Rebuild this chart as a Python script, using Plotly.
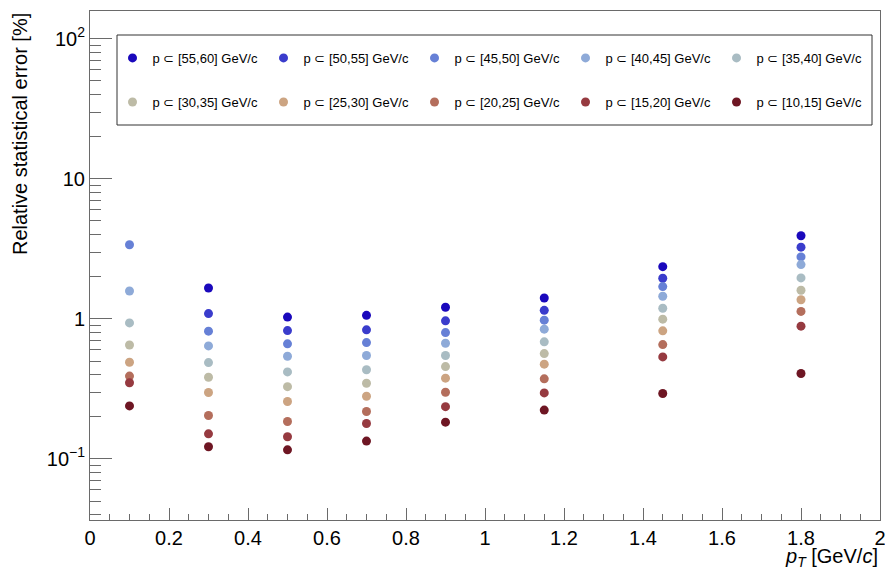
import plotly.graph_objects as go
import math

pt = [0.1, 0.3, 0.5, 0.7, 0.9, 1.15, 1.45, 1.8]

labels = ["p ⊂ [55,60] GeV/c", "p ⊂ [50,55] GeV/c", "p ⊂ [45,50] GeV/c",
          "p ⊂ [40,45] GeV/c", "p ⊂ [35,40] GeV/c", "p ⊂ [30,35] GeV/c",
          "p ⊂ [25,30] GeV/c", "p ⊂ [20,25] GeV/c", "p ⊂ [15,20] GeV/c",
          "p ⊂ [10,15] GeV/c"]

err_55_60 = [None, 1.66, 1.03, 1.06, 1.21, 1.41, 2.36, 3.92]
err_50_55 = [None, 1.09, 0.825, 0.835, 0.968, 1.15, 1.95, 3.25]
err_45_50 = [3.38, 0.817, 0.663, 0.677, 0.798, 0.979, 1.70, 2.77]
err_40_45 = [1.58, 0.641, 0.541, 0.547, 0.670, 0.844, 1.45, 2.44]
err_35_40 = [0.935, 0.487, 0.418, 0.433, 0.547, 0.685, 1.19, 1.96]
err_30_35 = [0.65, 0.383, 0.328, 0.347, 0.456, 0.565, 0.995, 1.60]
err_25_30 = [0.49, 0.298, 0.257, 0.280, 0.377, 0.475, 0.821, 1.37]
err_20_25 = [0.39, 0.204, 0.185, 0.218, 0.299, 0.373, 0.655, 1.13]
err_15_20 = [0.35, 0.151, 0.144, 0.179, 0.236, 0.296, 0.535, 0.887]
err_10_15 = [0.239, 0.122, 0.116, 0.134, 0.183, 0.223, 0.293, 0.407]

series = [err_55_60, err_50_55, err_45_50, err_40_45, err_35_40,
          err_30_35, err_25_30, err_20_25, err_15_20, err_10_15]

colors = ["#1a08bc", "#3a3ccc", "#6680d6", "#8eaad8", "#a9bcc3",
          "#bdbba6", "#cca482", "#b46e5c", "#963a40", "#6e1623"]

x_tickvals = [0, 0.2, 0.4, 0.6, 0.8, 1, 1.2, 1.4, 1.6, 1.8, 2]
x_ticktext = ["0", "0.2", "0.4", "0.6", "0.8", "1", "1.2", "1.4", "1.6", "1.8", "2"]
y_tickvals = [0.1, 1, 10, 100]
y_ticktext = ["10<sup>−1</sup>", "1", "10", "10<sup>2</sup>"]

FONT = "Liberation Sans, Arial, sans-serif"
AXC = "#6a6a6a"

fig = go.Figure()
for i, (lab, ys, c) in enumerate(zip(labels, series, colors)):
    fig.add_trace(go.Scatter(
        x=pt, y=ys, mode="markers", name=lab,
        marker=dict(color=c, size=9, line=dict(width=0)),
        legend="legend" if i < 5 else "legend2",
        showlegend=True,
    ))

y_minor = []
for e in range(-2, 3):
    for m in range(2, 10):
        v = m * 10 ** e
        if 0.0366 < v < 158:
            y_minor.append(v)

legend_common = dict(
    orientation="h", xanchor="left", yanchor="middle",
    bgcolor="rgba(0,0,0,0)", borderwidth=0,
    font=dict(family=FONT, size=13, color="black"),
    entrywidth=106, entrywidthmode="pixels",
    itemclick=False, itemdoubleclick=False,
)

fig.update_layout(
    width=885, height=570,
    margin=dict(l=90, r=5, t=11, b=50, autoexpand=False),
    paper_bgcolor="white", plot_bgcolor="white",
    font=dict(family=FONT, size=19, color="black"),
    legend=dict(x=0.0285, y=0.9077, **legend_common),
    legend2=dict(x=0.0285, y=0.8212, **legend_common),
    xaxis=dict(
        range=[0, 2], showgrid=False, zeroline=False,
        showline=True, linecolor=AXC, linewidth=1, mirror=True,
        ticks="inside", ticklen=12, tickcolor=AXC, tickwidth=1,
        tickmode="array", tickvals=x_tickvals, ticktext=x_ticktext,
        tickangle=0, ticklabeloverflow="allow",
        minor=dict(ticks="inside", ticklen=6, tickcolor=AXC, dtick=0.05, tick0=0, showgrid=False),
        tickfont=dict(family=FONT, size=20, color="black"),
    ),
    yaxis=dict(
        type="log", range=[math.log10(0.0366), math.log10(158)],
        showgrid=False, zeroline=False,
        showline=True, linecolor=AXC, linewidth=1, mirror=True,
        ticks="inside", ticklen=22, tickcolor=AXC, tickwidth=1,
        tickmode="array", tickvals=y_tickvals, ticktext=y_ticktext,
        minor=dict(ticks="inside", ticklen=11, tickcolor=AXC,
                   tickmode="array", tickvals=y_minor, showgrid=False),
        tickfont=dict(family=FONT, size=20, color="black"),
    ),
    shapes=[dict(type="rect", xref="paper", yref="paper",
                 x0=27 / 790, x1=782 / 790, y0=(520 - 125) / 509, y1=(520 - 35) / 509,
                 line=dict(color="#333333", width=1), fillcolor="rgba(0,0,0,0)")],
    annotations=[
        dict(text="Relative statistical error [%]", textangle=-90,
             xref="paper", yref="paper", x=-0.105, y=1.0,
             xanchor="left", yanchor="top", showarrow=False,
             font=dict(family=FONT, size=20, color="black")),
        dict(text="<i>p</i><sub><i>T</i></sub> [GeV/<i>c</i>]",
             xref="paper", yref="paper", x=1.0, y=-0.045,
             xanchor="right", yanchor="top", showarrow=False,
             font=dict(family=FONT, size=20, color="black")),
    ],
)

fig.write_html("out.html")
